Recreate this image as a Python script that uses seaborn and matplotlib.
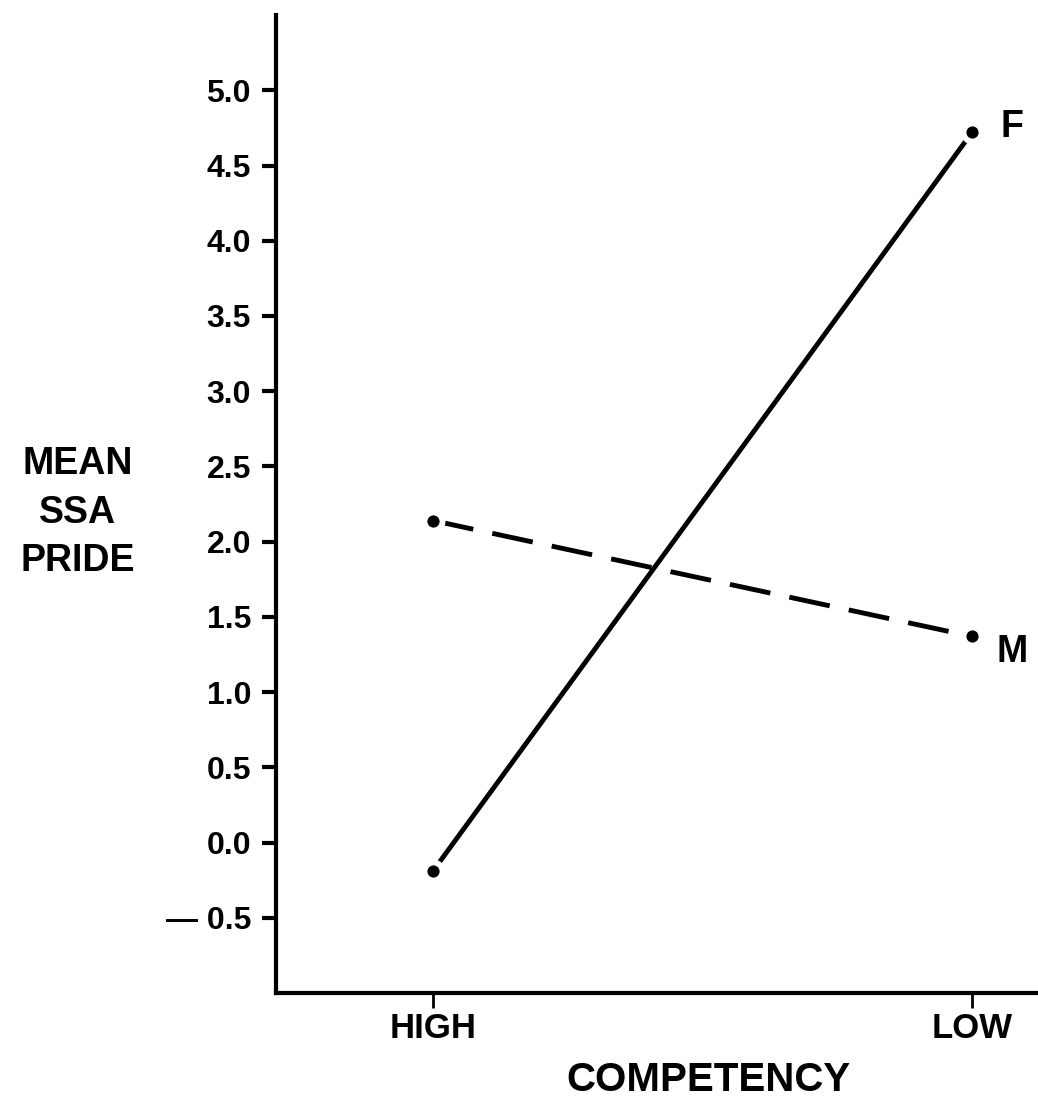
import matplotlib
matplotlib.use("Agg")
import matplotlib.pyplot as plt
import seaborn as sns
import pandas as pd

# ---- data ----
competency = ["HIGH", "LOW"]
female_pride = [-0.19, 4.72]
male_pride = [2.14, 1.37]
series_names = ["F", "M"]
y_ticks = [-0.5, 0.0, 0.5, 1.0, 1.5, 2.0, 2.5, 3.0, 3.5, 4.0, 4.5, 5.0]
y_tick_labels = ["— 0.5", "0.0", "0.5", "1.0", "1.5", "2.0", "2.5",
                 "3.0", "3.5", "4.0", "4.5", "5.0"]
x_label = "COMPETENCY"
y_label = "MEAN\nSSA\nPRIDE"

sns.set_theme(style="ticks")
plt.rcParams["font.family"] = ["Liberation Sans", "DejaVu Sans"]
plt.rcParams["text.color"] = "black"
plt.rcParams["axes.labelcolor"] = "black"

df = pd.DataFrame({
    "competency": competency * 2,
    "pride": female_pride + male_pride,
    "sex": [series_names[0]] * 2 + [series_names[1]] * 2,
})

fig = plt.figure(figsize=(10.38, 11.07), dpi=100)
ax = fig.add_axes([0.2659, 0.1030, 0.7341, 0.8834])

sns.lineplot(data=df, x="competency", y="pride", style="sex",
             dashes={"F": "", "M": (8.5, 4)}, color="black", lw=3.5,
             sort=False, legend=False, ax=ax)
sns.scatterplot(data=df, x="competency", y="pride", color="black",
                s=170, edgecolor="white", linewidth=4.2, zorder=3,
                legend=False, ax=ax)

ax.set_xlim(-0.291, 1.1224)
ax.set_ylim(-1.0, 5.5)

ax.set_yticks(y_ticks, labels=y_tick_labels)
for t in ax.get_yticklabels():
    t.set_fontweight("bold")
    t.set_fontsize(23)
for t in ax.get_xticklabels():
    t.set_fontweight("bold")
    t.set_fontsize(25)

ax.tick_params(axis="y", direction="out", length=10, width=3, pad=8, colors="black")
ax.tick_params(axis="x", direction="out", length=11, width=2, pad=3, colors="black")

sns.despine(ax=ax)
for side in ["left", "bottom"]:
    ax.spines[side].set_linewidth(3)
    ax.spines[side].set_color("black")

ax.set_xlabel(x_label, fontsize=29, fontweight="bold")
ax.xaxis.set_label_coords(0.567, -0.089)
ax.xaxis.label.set_va("center")

ax.set_ylabel(y_label, fontsize=27, fontweight="bold", rotation=0,
              ha="center", va="center", linespacing=1.45)
ax.yaxis.set_label_coords(-0.26, 0.491)

# series labels next to the LOW points
ax.annotate(series_names[0], xy=(competency[1], female_pride[1]),
            xytext=(29, 4), textcoords="offset points",
            ha="center", va="center", fontsize=27, fontweight="bold")
ax.annotate(series_names[1], xy=(competency[1], male_pride[1]),
            xytext=(29, -11), textcoords="offset points",
            ha="center", va="center", fontsize=27, fontweight="bold")

fig.savefig("out.png", dpi=100, facecolor="white")
